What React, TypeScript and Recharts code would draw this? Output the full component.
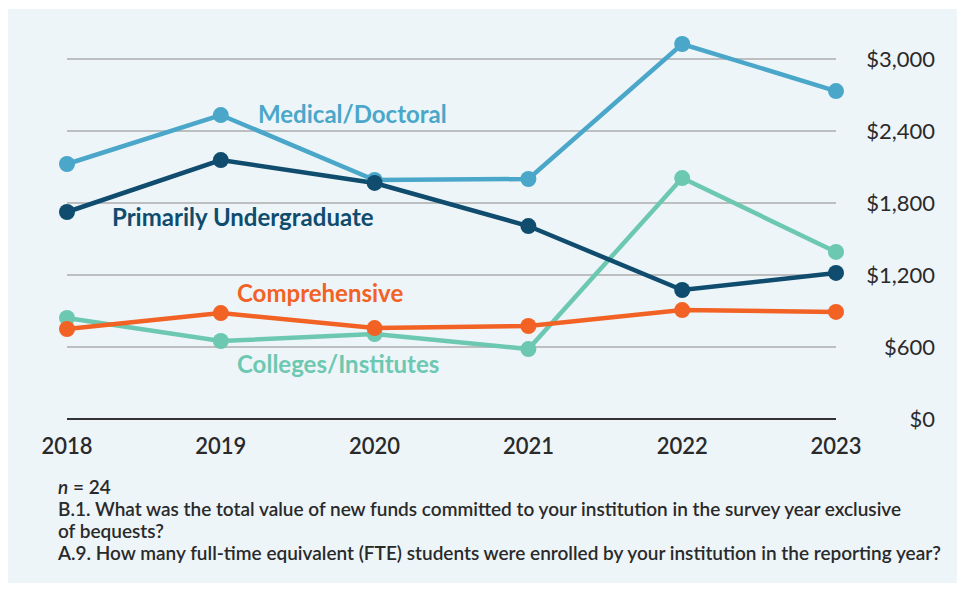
import React from "react";
import { LineChart, Line, XAxis, YAxis, CartesianGrid } from "recharts";

const years = ["2018", "2019", "2020", "2021", "2022", "2023"];
const medicalDoctoral = [2125, 2533, 1992, 2000, 3125, 2733];
const primarilyUndergraduate = [1725, 2158, 1967, 1608, 1075, 1217];
const comprehensive = [750, 883, 758, 775, 908, 892];
const collegesInstitutes = [842, 650, 708, 583, 2008, 1392];
const yTicks = [0, 600, 1200, 1800, 2400, 3000];

const data = years.map((year, i) => ({
  year,
  medical: medicalDoctoral[i],
  undergrad: primarilyUndergraduate[i],
  comprehensive: comprehensive[i],
  colleges: collegesInstitutes[i],
}));

const C_MED = "#4AA7C9";
const C_UND = "#0F4C6E";
const C_COMP = "#F26224";
const C_COL = "#6DC8B1";
const FONT = "Lato, 'Noto Sans', sans-serif";

const XTick = (props: any) => {
  const { x, y, payload } = props;
  return (
    <text x={x} y={y + 27} textAnchor="middle" fontFamily={FONT} fontSize={22} fontWeight={600} fill="#2a2a2a">
      {payload.value}
    </text>
  );
};

const YTick = (props: any) => {
  const { y, payload } = props;
  return (
    <text x={935} y={y + 8} textAnchor="end" fontFamily={FONT} fontSize={22} fontWeight={400} fill="#2a2a2a">
      {"$" + Number(payload.value).toLocaleString("en-US")}
    </text>
  );
};

const labelStyle = (color: string, left: number, top: number): React.CSSProperties => ({
  position: "absolute",
  left,
  top,
  color,
  fontFamily: FONT,
  fontWeight: 700,
  fontSize: 24,
  lineHeight: "26px",
  whiteSpace: "nowrap",
});

export default function App() {
  const dot = (c: string) => ({ r: 8, fill: c, stroke: "none" });
  return (
    <div style={{ position: "relative", width: 965, height: 591, margin: "-8px 0 0 -8px", background: "#fff", overflow: "hidden" }}>
      <div style={{ position: "absolute", left: 7, top: 9, width: 951, height: 574, background: "#EDF5F9" }} />
      <div style={{ position: "absolute", left: 0, top: 0 }}>
        <LineChart width={965} height={591} data={data} margin={{ top: 35, right: 29, bottom: 132, left: 67 }}>
          <CartesianGrid vertical={false} stroke="#ABABAB" strokeWidth={1.5} horizontalValues={yTicks} />
          <XAxis
            dataKey="year"
            height={40}
            axisLine={{ stroke: "#333", strokeWidth: 2 }}
            tickLine={false}
            tick={<XTick />}
            interval={0}
          />
          <YAxis
            orientation="right"
            width={100}
            domain={[0, 3200]}
            ticks={yTicks}
            axisLine={false}
            tickLine={false}
            tick={<YTick />}
          />
          <Line dataKey="colleges" stroke={C_COL} strokeWidth={4.5} dot={dot(C_COL)} activeDot={false} isAnimationActive={false} />
          <Line dataKey="medical" stroke={C_MED} strokeWidth={4.5} dot={dot(C_MED)} activeDot={false} isAnimationActive={false} />
          <Line dataKey="comprehensive" stroke={C_COMP} strokeWidth={4.5} dot={dot(C_COMP)} activeDot={false} isAnimationActive={false} />
          <Line dataKey="undergrad" stroke={C_UND} strokeWidth={4.5} dot={dot(C_UND)} activeDot={false} isAnimationActive={false} />
        </LineChart>
      </div>
      <div style={labelStyle(C_MED, 258, 101)}>Medical/Doctoral</div>
      <div style={labelStyle(C_UND, 112, 204)}>Primarily Undergraduate</div>
      <div style={labelStyle(C_COMP, 237, 280)}>Comprehensive</div>
      <div style={labelStyle(C_COL, 237, 351)}>Colleges/Institutes</div>
      <div
        style={{
          position: "absolute",
          left: 58,
          top: 476,
          fontFamily: FONT,
          fontSize: 19,
          fontWeight: 600,
          lineHeight: "22px",
          color: "#2a2a2a",
          whiteSpace: "nowrap",
        }}
      >
        <div>
          <i>n</i> = 24
        </div>
        <div>B.1. What was the total value of new funds committed to your institution in the survey year exclusive</div>
        <div>of bequests?</div>
        <div>A.9. How many full-time equivalent (FTE) students were enrolled by your institution in the reporting year?</div>
      </div>
    </div>
  );
}
